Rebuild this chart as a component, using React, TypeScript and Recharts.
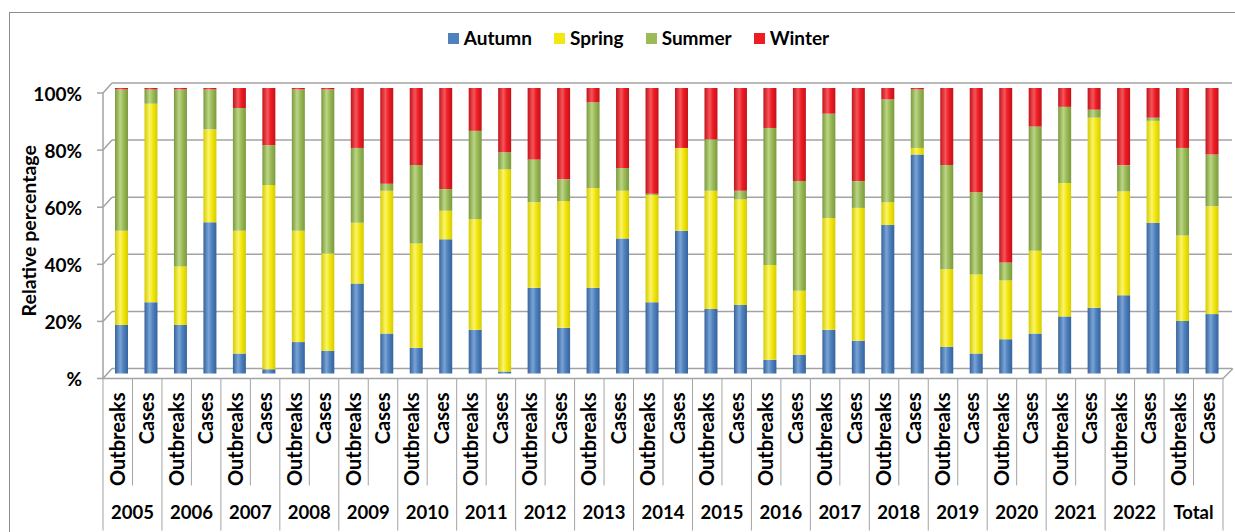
import React from "react";
import { BarChart, Bar, XAxis, YAxis, CartesianGrid, Legend } from "recharts";

const years = ["2005", "2006", "2007", "2008", "2009", "2010", "2011", "2012", "2013", "2014", "2015", "2016", "2017", "2018", "2019", "2020", "2021", "2022", "Total"];
const types = ["Outbreaks", "Cases"];

// relative share (%) per bar, in order: year x (Outbreaks, Cases)
const autumn = [17, 25, 17, 53, 7, 1.5, 11, 8, 31.5, 14, 9, 47, 15.3, 0.7, 30, 16, 30, 47.3, 25, 50, 22.6, 24, 4.8, 6.6, 15.3, 11.5, 52, 76.7, 9.4, 7, 12, 14, 20, 23, 27.4, 52.8, 18.4, 20.8];
const spring = [33, 69.5, 20.5, 32.5, 43, 64.5, 39, 34, 21.3, 50, 36.5, 10, 38.7, 70.8, 30, 44.4, 35, 16.7, 37.5, 29, 41.4, 37, 33.2, 22.4, 39.2, 46.5, 8, 2.3, 27.1, 27.7, 20.6, 29, 46.7, 66.6, 36.4, 35.7, 29.9, 37.8];
const summer = [49.5, 5, 62, 14, 43, 14, 49.5, 57.5, 26.2, 2.5, 27.5, 7.6, 31, 6, 15, 7.6, 30, 8, 0.5, 0, 18, 3, 48, 38.4, 36.5, 9.4, 36, 20.5, 36.5, 28.8, 6.3, 43.5, 26.7, 2.8, 9.1, 1.1, 30.7, 18.1];
const winter = [0.5, 0.5, 0.5, 0.5, 7, 20, 0.5, 0.5, 21, 33.5, 27, 35.4, 15, 22.5, 25, 32, 5, 28, 37, 21, 18, 36, 14, 32.6, 9, 32.6, 4, 0.5, 27, 36.5, 61.1, 13.5, 6.6, 7.6, 27.1, 10.4, 21, 23.3];

const yTicks = [0, 20, 40, 60, 80, 100];

const series = [
  { key: "autumn", name: "Autumn", color: "#4f81bd", dark: "#35639c", light: "#7aa3d6" },
  { key: "spring", name: "Spring", color: "#f2e70f", dark: "#d6cb00", light: "#fbf46a" },
  { key: "summer", name: "Summer", color: "#9bbb59", dark: "#7a9a3c", light: "#bbd585" },
  { key: "winter", name: "Winter", color: "#ed1c24", dark: "#c3121a", light: "#f5555b" },
];

const data = years.flatMap((year, i) =>
  types.map((type, j) => {
    const k = i * 2 + j;
    return { year, type, autumn: autumn[k], spring: spring[k], summer: summer[k], winter: winter[k] };
  })
);

const W = 1235;
const H = 532;
const PLOT_LEFT = 107;
const PLOT_RIGHT = 1227;
const PLOT_TOP = 88;
const PLOT_BOTTOM = 373.5;
const TYPE_AXIS_H = 110;
const STEP_X = (PLOT_RIGHT - PLOT_LEFT) / data.length;
const STEP_Y = (PLOT_BOTTOM - PLOT_TOP) / (yTicks.length - 1);
const FONT = "Lato, 'Liberation Sans', sans-serif";
const LINE = "#a3a3a3";

// front / back faces of the 3D frame relative to the bar plane
const FRONT = { dx: -4, dy: 5 };
const BACK = { dx: 5, dy: -5 };

const YTick = ({ y, payload }: any) => {
  const fx = PLOT_LEFT + FRONT.dx;
  const fy = y + FRONT.dy;
  const v = payload.value;
  return (
    <g>
      <text x={82} y={fy} textAnchor="end" dominantBaseline="central" fontFamily={FONT} fontWeight={700} fontSize={19} fill="#000">
        {v === 0 ? "%" : `${v}%`}
      </text>
      <line x1={fx - 6} y1={fy} x2={fx} y2={fy} stroke={LINE} strokeWidth={1.5} />
      <line x1={fx} y1={fy} x2={PLOT_LEFT + BACK.dx} y2={y + BACK.dy} stroke={LINE} strokeWidth={1.5} />
      {v < 100 && <line x1={fx} y1={fy} x2={fx} y2={fy - STEP_Y} stroke={LINE} strokeWidth={1.5} />}
    </g>
  );
};

const TypeTick = ({ x, y, payload, index }: any) => {
  const fx = x + FRONT.dx;
  const fy = y + FRONT.dy;
  const left = fx - STEP_X / 2;
  const right = fx + STEP_X / 2;
  const isLast = index === data.length - 1;
  return (
    <g>
      <line x1={left} y1={fy} x2={right} y2={fy} stroke={LINE} strokeWidth={1.5} />
      <line x1={left} y1={fy} x2={left} y2={fy + (index % 2 === 0 ? 152 : 107)} stroke={LINE} strokeWidth={1} />
      {isLast && (
        <>
          <line x1={right} y1={fy} x2={right} y2={fy + 152} stroke={LINE} strokeWidth={1} />
          <line x1={right} y1={fy} x2={right + 10} y2={fy - 10} stroke={LINE} strokeWidth={1.5} />
        </>
      )}
      <text
        transform={`translate(${fx + 7},${fy + 14}) rotate(-90)`}
        textAnchor="end"
        fontFamily={FONT}
        fontWeight={700}
        fontSize={20}
        fill="#000"
      >
        {payload.value}
      </text>
    </g>
  );
};

const YearTick = ({ x, y, payload }: any) => (
  <text x={x + FRONT.dx} y={y + 35} textAnchor="middle" fontFamily={FONT} fontWeight={700} fontSize={18.5} fill="#000">
    {payload.value}
  </text>
);

const BackGridLine = (props: any) => (
  <line
    x1={props.x1 + BACK.dx}
    y1={props.y1 + BACK.dy}
    x2={props.x2 + BACK.dx}
    y2={props.y2 + BACK.dy}
    stroke={LINE}
    strokeWidth={1.5}
  />
);

const renderYLabel = ({ viewBox }: any) => {
  const cy = viewBox.y + viewBox.height / 2;
  return (
    <text
      x={28}
      y={cy}
      transform={`rotate(-90, 28, ${cy})`}
      textAnchor="middle"
      dominantBaseline="central"
      fontFamily={FONT}
      fontWeight={700}
      fontSize={19.5}
      fill="#000"
    >
      Relative percentage
    </text>
  );
};

const renderLegend = () => (
  <div
    style={{
      height: PLOT_TOP,
      boxSizing: "border-box",
      paddingTop: 27,
      paddingLeft: 50,
      display: "flex",
      justifyContent: "center",
      alignItems: "flex-start",
      fontFamily: FONT,
      fontWeight: 700,
      fontSize: 19,
      lineHeight: "22px",
      color: "#000",
    }}
  >
    {series.map((s) => (
      <div key={s.key} style={{ display: "flex", alignItems: "center", margin: "0 11px" }}>
        <span style={{ display: "inline-block", width: 11, height: 11, background: s.color, marginRight: 5 }} />
        {s.name}
      </div>
    ))}
  </div>
);

export default function App() {
  return (
    <div style={{ position: "absolute", left: 0, top: 0, width: W, height: H, overflow: "hidden", background: "#fff" }}>
      <div style={{ position: "absolute", left: 9, top: 12, width: W, height: H, border: "1px solid #8c8c8c" }} />
      <div style={{ position: "absolute", left: 0, top: 0 }}>
        <BarChart
          width={W}
          height={H}
          data={data}
          margin={{ top: 0, right: W - PLOT_RIGHT, bottom: 0, left: 0 }}
          barSize={13}
        >
          <defs>
            {series.map((s) => (
              <linearGradient key={s.key} id={`g-${s.key}`} x1="0" y1="0" x2="1" y2="0">
                <stop offset="0" stopColor={s.dark} />
                <stop offset="0.4" stopColor={s.light} />
                <stop offset="0.65" stopColor={s.color} />
                <stop offset="1" stopColor={s.dark} />
              </linearGradient>
            ))}
          </defs>
          <Legend verticalAlign="top" align="center" content={renderLegend} />
          <CartesianGrid vertical={false} horizontal={BackGridLine} />
          <XAxis dataKey="type" interval={0} height={TYPE_AXIS_H} axisLine={false} tickLine={false} tickSize={0} tickMargin={0} tick={<TypeTick />} />
          <XAxis
            xAxisId="year"
            dataKey="year"
            allowDuplicatedCategory={false}
            interval={0}
            height={H - PLOT_BOTTOM - TYPE_AXIS_H}
            axisLine={false}
            tickLine={false}
            tickSize={0}
            tickMargin={0}
            tick={<YearTick />}
          />
          <YAxis
            domain={[0, 100]}
            ticks={yTicks}
            width={PLOT_LEFT}
            axisLine={false}
            tickLine={false}
            tickSize={0}
            tickMargin={0}
            tick={<YTick />}
            label={{ content: renderYLabel }}
          />
          {series.map((s) => (
            <Bar key={s.key} dataKey={s.key} name={s.name} stackId="a" fill={`url(#g-${s.key})`} isAnimationActive={false} />
          ))}
        </BarChart>
      </div>
    </div>
  );
}
